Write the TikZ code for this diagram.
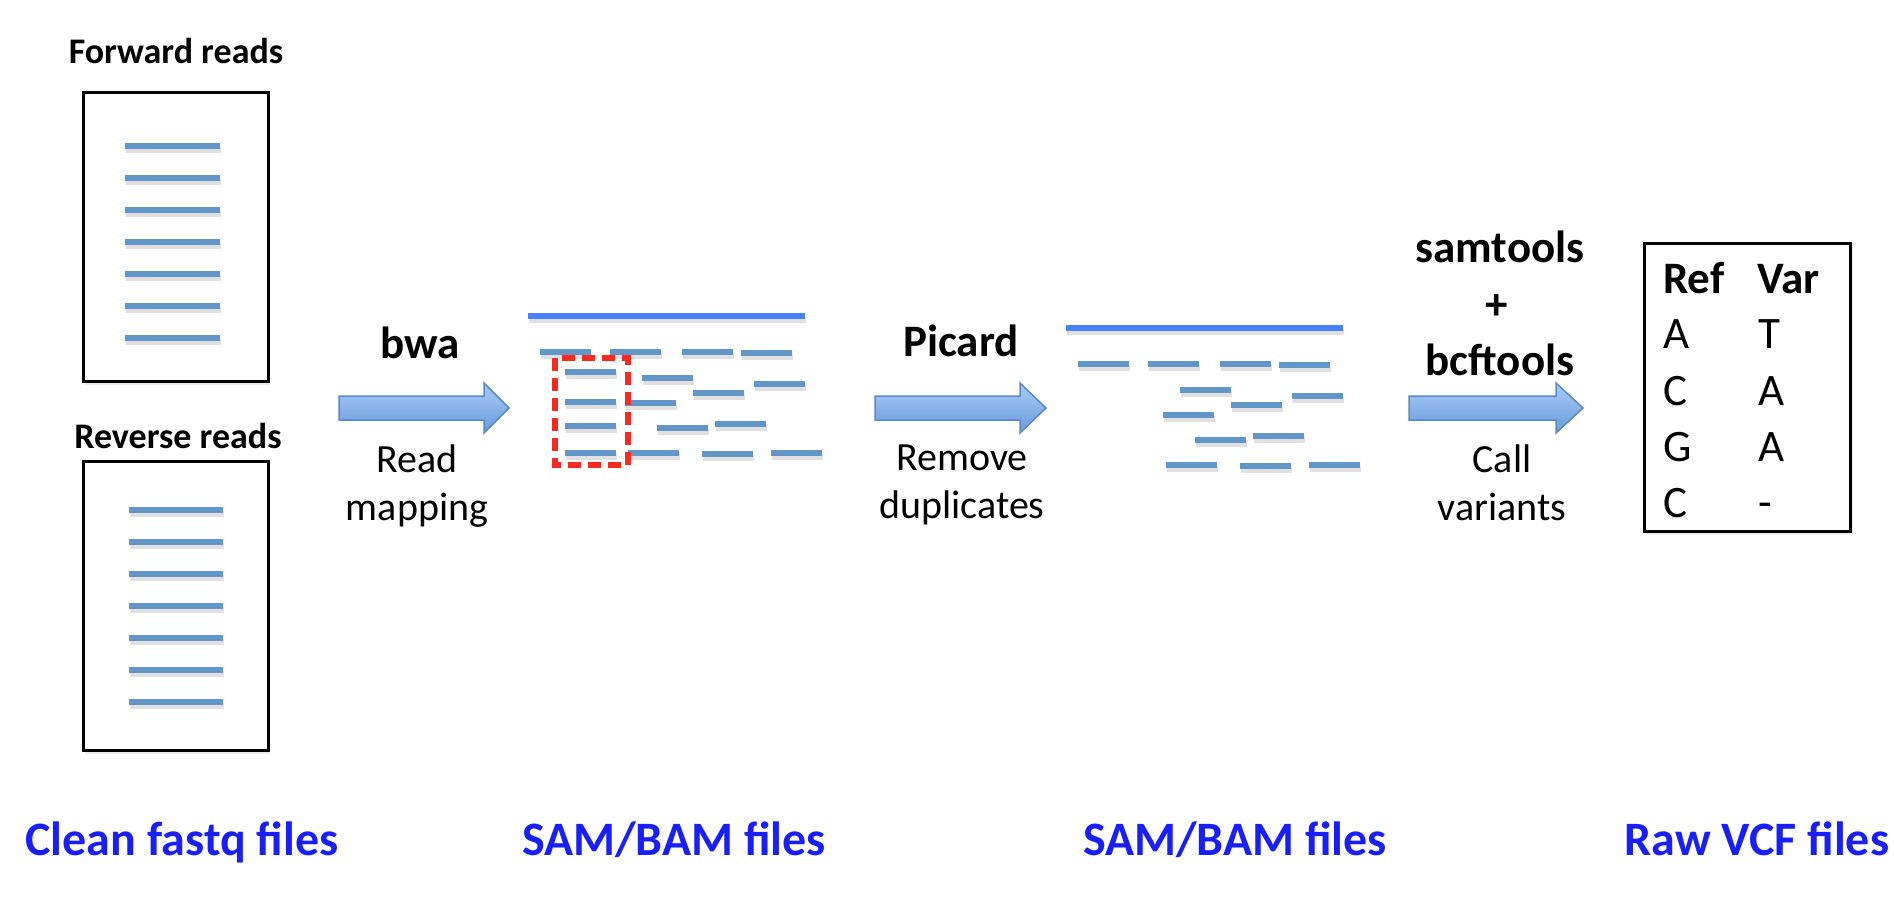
\documentclass[tikz,border=0pt]{standalone}
\usepackage{fontspec}
\setmainfont{Carlito}
\usetikzlibrary{shadows}
\definecolor{readblue}{RGB}{99,150,200}
\definecolor{refblue}{RGB}{72,130,250}
\definecolor{filesblue}{RGB}{25,30,255}
\definecolor{dupred}{RGB}{250,40,30}
\definecolor{arrowtop}{RGB}{168,203,245}
\definecolor{arrowbot}{RGB}{105,155,220}
\definecolor{arrowedge}{RGB}{88,136,200}
\newcommand{\keptreads}{540/352,610/352,682/352,741/353,642/378,754/384,693/393,625/403,657/428,715/424,628/453,702/454,771/453}
\newcommand{\dupreads}{565/372,565/402,565/426,565/453}
\newcommand{\blockarrow}[3]{\draw[flowarrow] (#1,396) -- (#2,396) -- (#2,383) -- (#3,408) -- (#2,433) -- (#2,420) -- (#1,420) -- cycle;}

\begin{document}
\begin{tikzpicture}[x=1pt,y=-1pt,
  read/.style={draw=readblue,line width=6pt,
    preaction={draw=black!12,line width=6pt,transform canvas={shift={(1pt,-3.5pt)}}}},
  refline/.style={draw=refblue,line width=6pt,
    preaction={draw=black!12,line width=6pt,transform canvas={shift={(1pt,-3.5pt)}}}},
  filebox/.style={draw=black,line width=3pt,fill=white,inner sep=0pt,
    drop shadow={shadow xshift=2pt,shadow yshift=-3pt,opacity=0.15}},
  dupbox/.style={draw=dupred,line width=5.5pt,dash pattern=on 13pt off 7pt},
  flowarrow/.style={draw=arrowedge,line width=1.5pt,top color=arrowtop,bottom color=arrowbot},
  toolname/.style={font=\bfseries\fontsize{45}{54}\selectfont,inner sep=0pt,anchor=base},
  stepdesc/.style={font=\fontsize{40}{48}\selectfont,inner sep=0pt,anchor=base},
  readslabel/.style={font=\bfseries\fontsize{36}{43}\selectfont,inner sep=0pt,anchor=base},
  fileslabel/.style={font=\bfseries\fontsize{48}{58}\selectfont,text=filesblue,inner sep=0pt,anchor=base},
  cell/.style={font=\fontsize{45}{54}\selectfont,inner sep=0pt,anchor=base west},
  cellhead/.style={font=\bfseries\fontsize{45}{54}\selectfont,inner sep=0pt,anchor=base west}]
\fill[white] (0,0) rectangle (1894,918);
\useasboundingbox (0,0) rectangle (1894,918);

% fastq files
\node[readslabel] (fwd-label) at (176,63) {Forward reads};
\node[filebox,minimum width=185pt,minimum height=289pt] (fwd) at (175.5,237) {};
\foreach \k in {0,...,6}
  \draw[read] (125,146+32*\k) -- (220,146+32*\k);
\node[readslabel] (rev-label) at (178,448) {Reverse reads};
\node[filebox,minimum width=185pt,minimum height=289pt] (rev) at (175.5,606) {};
\foreach \k in {0,...,6}
  \draw[read] (129,510+32*\k) -- (223,510+32*\k);

% mapped reads, duplicates boxed
\draw[refline] (528,316) -- (805,316);
\foreach \x/\y in \keptreads
  \draw[read] (\x,\y) -- ++(51,0);
\foreach \x/\y in \dupreads
  \draw[read] (\x,\y) -- ++(51,0);
\draw[dupbox] (555,358) rectangle (628,465);

% after duplicate removal
\begin{scope}[shift={(538,12)}]
\draw[refline] (528,316) -- (805,316);
\foreach \x/\y in \keptreads
  \draw[read] (\x,\y) -- ++(51,0);
\end{scope}

% variant table
\node[filebox,minimum width=206pt,minimum height=288pt] (vcf) at (1747.5,387.5) {};
\node[cellhead] (ref-head) at (1663,293) {Ref};
\node[cellhead] (var-head) at (1757,293) {Var};
\node[cell] (ref-1) at (1663,348) {A};
\node[cell] (var-1) at (1758,348) {T};
\node[cell] (ref-2) at (1663,405) {C};
\node[cell] (var-2) at (1758,405) {A};
\node[cell] (ref-3) at (1663,461) {G};
\node[cell] (var-3) at (1758,461) {A};
\node[cell] (ref-4) at (1663,517) {C};
\node[cell] (var-4) at (1758,517) {-};

% steps
\blockarrow{339}{484}{509}
\blockarrow{875}{1020}{1046}
\blockarrow{1409}{1556}{1583}
\node[toolname] (bwa) at (420,358) {bwa};
\node[stepdesc] (map-1) at (417,472) {Read};
\node[stepdesc] (map-2) at (417,520) {mapping};
\node[toolname] (picard) at (961,356) {Picard};
\node[stepdesc] (dedup-1) at (962,470) {Remove};
\node[stepdesc] (dedup-2) at (962,518) {duplicates};
\node[toolname] (samtools) at (1500,262) {samtools};
\node[toolname,anchor=center] (plus) at (1497,307) {+};
\node[toolname] (bcftools) at (1500,375) {bcftools};
\node[stepdesc] (call-1) at (1502,472) {Call};
\node[stepdesc] (call-2) at (1502,520) {variants};

% file types
\node[fileslabel] (fastq) at (182,855) {Clean fastq files};
\node[fileslabel] (bam-1) at (674,855) {SAM/BAM files};
\node[fileslabel] (bam-2) at (1235,855) {SAM/BAM files};
\node[fileslabel] (raw-vcf) at (1757,855) {Raw VCF files};
\end{tikzpicture}
\end{document}
